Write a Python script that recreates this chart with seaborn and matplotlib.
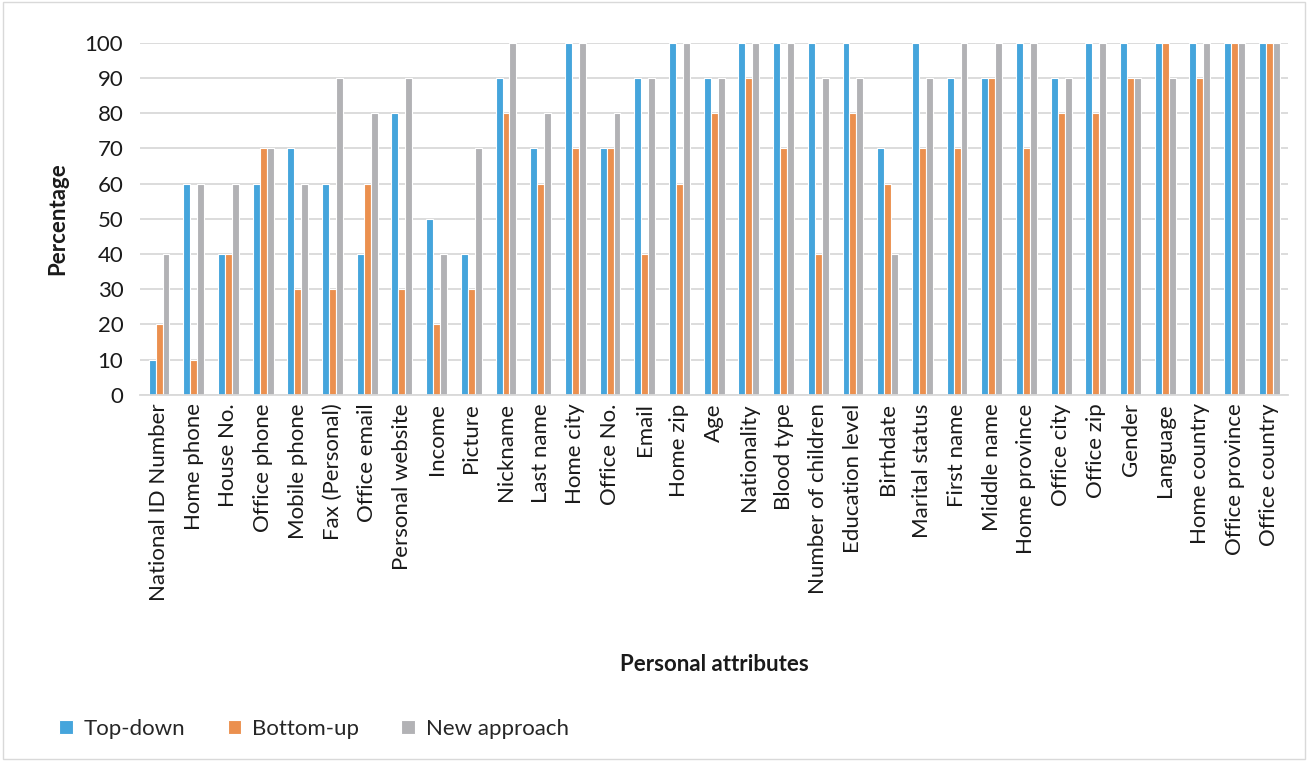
import matplotlib
matplotlib.use("Agg")
import matplotlib.pyplot as plt
import seaborn as sns
import pandas as pd
from matplotlib.patches import Rectangle

categories = ["National ID Number", "Home phone", "House No.", "Office phone", "Mobile phone",
              "Fax (Personal)", "Office email", "Personal website", "Income", "Picture",
              "Nickname", "Last name", "Home city", "Office No.", "Email", "Home zip", "Age",
              "Nationality", "Blood type", "Number of children", "Education level", "Birthdate",
              "Marital status", "First name", "Middle name", "Home province", "Office city",
              "Office zip", "Gender", "Language", "Home country", "Office province", "Office country"]
top_down = [10, 60, 40, 60, 70, 60, 40, 80, 50, 40, 90, 70, 100, 70, 90, 100, 90,
            100, 100, 100, 100, 70, 100, 90, 90, 100, 90, 100, 100, 100, 100, 100, 100]
bottom_up = [20, 10, 40, 70, 30, 30, 60, 30, 20, 30, 80, 60, 70, 70, 40, 60, 80,
             90, 70, 40, 80, 60, 70, 70, 90, 70, 80, 80, 90, 100, 90, 100, 100]
new_approach = [40, 60, 60, 70, 60, 90, 80, 90, 40, 70, 100, 80, 100, 80, 90, 100, 90,
                100, 100, 90, 90, 40, 90, 100, 100, 100, 90, 100, 90, 90, 100, 100, 100]
series_names = ["Top-down", "Bottom-up", "New approach"]
colors = ["#45A5DC", "#EB904F", "#B2B2B5"]

rows = []
for name, vals in zip(series_names, [top_down, bottom_up, new_approach]):
    for c, v in zip(categories, vals):
        rows.append({"Attribute": c, "Value": v, "Series": name})
df = pd.DataFrame(rows)

sns.set_theme(style="white")
plt.rcParams['font.family'] = ['Lato', 'DejaVu Sans']

fig = plt.figure(figsize=(13.08, 7.61), dpi=100)
ax = fig.add_axes([0.107, 0.481, 0.878, 0.463])
sns.barplot(data=df, x="Attribute", y="Value", hue="Series", order=categories,
            hue_order=series_names, palette=colors, saturation=1, width=0.6,
            edgecolor="white", linewidth=0.8, ax=ax, legend=True)

ax.set_ylim(0, 100)
ax.set_yticks(range(0, 101, 10))
ax.set_xlim(-0.55, len(categories) - 0.45)
ax.yaxis.grid(True, color="#D9D9D9", linewidth=1.3)
ax.set_axisbelow(True)
for s in ["top", "right", "left"]:
    ax.spines[s].set_visible(False)
ax.spines["bottom"].set_color("#D9D9D9")
ax.spines["bottom"].set_linewidth(1.3)
ax.tick_params(axis="x", rotation=90, labelsize=16, length=0, pad=6, colors="#1a1a1a")
ax.tick_params(axis="y", labelsize=16, length=0, pad=12, colors="#1a1a1a")
ax.set_xlabel("Personal attributes", fontsize=16, fontweight="bold", labelpad=38, color="#1a1a1a")
ax.set_ylabel("Percentage", fontsize=16, fontweight="bold", labelpad=12, color="#1a1a1a")

handles, labels = ax.get_legend_handles_labels()
ax.get_legend().remove()
fig.legend(handles, labels, loc="lower left", bbox_to_anchor=(0.03, 0.003), ncol=3,
           frameon=False, fontsize=16, handlelength=0.6, handleheight=0.6,
           columnspacing=1.9, handletextpad=0.5)

fig.patches.append(Rectangle((0.002, 0.002), 0.996, 0.996, transform=fig.transFigure,
                             fill=False, edgecolor="#D9D9D9", linewidth=1))
fig.savefig("out.png", dpi=100)
